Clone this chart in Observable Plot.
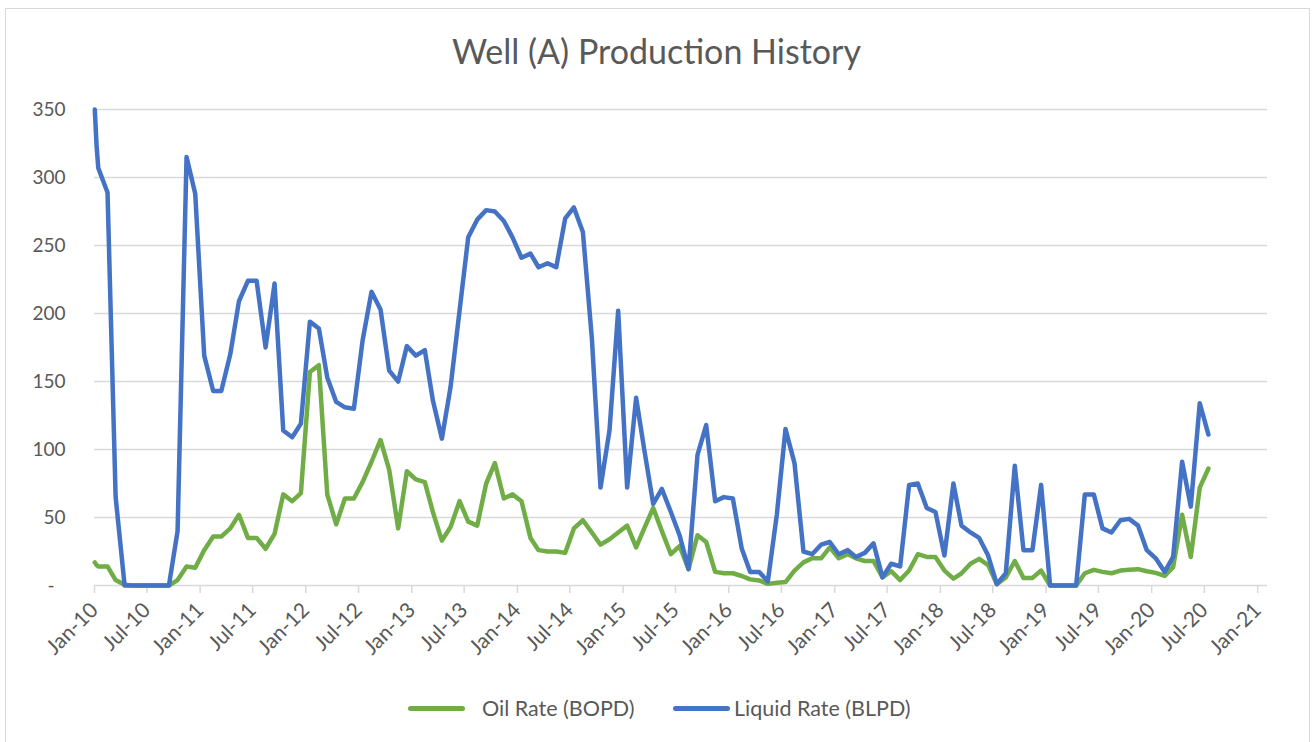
<!DOCTYPE html>
<html>
<head>
<meta charset="utf-8">
<script src="https://cdn.jsdelivr.net/npm/d3@7"></script>
<script src="https://cdn.jsdelivr.net/npm/@observablehq/plot@0.6"></script>
<style>
  html, body { margin: 0; padding: 0; background: #fff; }
  #wrap { position: relative; width: 1313px; height: 742px; overflow: hidden; font-family: Lato, "Open Sans", sans-serif; color: #595959; }
  #frame { position: absolute; left: 5px; top: 8px; width: 1305px; height: 760px; border: 1.5px solid #d9d9d9; box-sizing: border-box; }
  #title { position: absolute; left: 0; width: 1313px; top: 34px; text-align: center; font-size: 34px; line-height: 34px; color: #595959; }
  #chart { position: absolute; left: 0; top: 80px; }
  .leg { position: absolute; top: 695px; font-size: 21.5px; line-height: 26px; color: #595959; white-space: nowrap; }
  .sw { position: absolute; height: 5px; border-radius: 3px; top: 706px; }
</style>
</head>
<body>
<div id="wrap">
  <div id="frame"></div>
  <div id="title">Well (A) Production History</div>
  <div id="chart"></div>
  <div class="sw" style="left:408px;width:57px;background:#70AD47"></div>
  <div class="leg" style="left:482px">Oil Rate (BOPD)</div>
  <div class="sw" style="left:673px;width:57px;background:#4472C4"></div>
  <div class="leg" style="left:734px">Liquid Rate (BLPD)</div>
</div>
<script>
// Dates of the readings (first three in Jan-2010, then monthly mid-month)
const dates = [
  "2010-01-02","2010-01-08","2010-01-14",
  "2010-02","2010-03","2010-04","2010-05","2010-06","2010-07","2010-08","2010-09","2010-10","2010-11","2010-12",
  "2011-01","2011-02","2011-03","2011-04","2011-05","2011-06","2011-07","2011-08","2011-09","2011-10","2011-11","2011-12",
  "2012-01","2012-02","2012-03","2012-04","2012-05","2012-06","2012-07","2012-08","2012-09","2012-10","2012-11","2012-12",
  "2013-01","2013-02","2013-03","2013-04","2013-05","2013-06","2013-07","2013-08","2013-09","2013-10","2013-11","2013-12",
  "2014-01","2014-02","2014-03","2014-04","2014-05","2014-06","2014-07","2014-08","2014-09","2014-10","2014-11","2014-12",
  "2015-01","2015-02","2015-03","2015-04","2015-05","2015-06","2015-07","2015-08","2015-09","2015-10","2015-11","2015-12",
  "2016-01","2016-02","2016-03","2016-04","2016-05","2016-06","2016-07","2016-08","2016-09","2016-10","2016-11","2016-12",
  "2017-01","2017-02","2017-03","2017-04","2017-05","2017-06","2017-07","2017-08","2017-09","2017-10","2017-11","2017-12",
  "2018-01","2018-02","2018-03","2018-04","2018-05","2018-06","2018-07","2018-08","2018-09","2018-10","2018-11","2018-12",
  "2019-01","2019-02","2019-03","2019-04","2019-05","2019-06","2019-07","2019-08","2019-09","2019-10","2019-11","2019-12",
  "2020-01","2020-02","2020-03","2020-04","2020-05","2020-06","2020-07"
];

// Oil Rate (BOPD)
const oilRate = [
  17, 15, 14,
  14, 4, 0.5, 0, 0, 0, 0, 0, 4, 14, 13,
  26, 36, 36, 42, 52, 35, 35, 27, 38, 67, 62, 68,
  157, 162, 67, 45, 64, 64, 76, 91, 107, 85, 42, 84,
  78, 76, 54, 33, 43, 62, 47, 44, 75, 90, 64, 67,
  62, 35, 26, 25, 25, 24, 42, 48, 39, 30, 34, 39,
  44, 28, 42, 57, 40, 23, 29, 12, 37, 32, 10, 9,
  9, 7, 4.5, 3.7, 1.2, 2, 2.5, 11, 17, 20, 20, 28,
  20, 23, 20, 18, 18, 6, 10.5, 4, 11, 23, 21, 21,
  11, 5, 9, 16, 19.6, 15, 1, 6, 18, 5.6, 5.6, 11,
  0, 0, 0, 0, 9, 11.5, 10, 9, 11, 11.5, 12, 10.5,
  9.3, 7, 13.5, 52, 21, 72, 86
];

// Liquid Rate (BLPD)
const liquidRate = [
  350, 324, 307,
  289, 65, 0, 0, 0, 0, 0, 0, 40, 315, 288,
  169, 143, 143, 170, 209, 224, 224, 175, 222, 114, 109, 119,
  194, 189, 153, 135, 131, 130, 180, 216, 203, 158, 150, 176,
  169, 173, 136, 108, 146, 202, 256, 269, 276, 275, 268, 256,
  241, 244, 234, 237, 234, 270, 278, 260, 182, 72, 114, 202,
  72, 138, 100, 60, 71, 54, 37, 12, 96, 118, 62, 65,
  64, 27, 10, 10, 3, 52, 115, 90, 25, 23, 30, 32,
  23, 26, 21, 24, 31, 6, 16, 14, 74, 75, 57, 54,
  22, 75, 44, 39, 35, 22, 1, 9, 88, 26, 26, 74,
  0, 0, 0, 0, 67, 67, 42, 39, 48, 49, 44, 26,
  20, 10, 21, 91, 58, 134, 111
];

const yTicks = [0, 50, 100, 150, 200, 250, 300, 350];
const xTickLabels = ["Jan-10","Jul-10","Jan-11","Jul-11","Jan-12","Jul-12","Jan-13","Jul-13","Jan-14","Jul-14","Jan-15","Jul-15","Jan-16","Jul-16","Jan-17","Jul-17","Jan-18","Jul-18","Jan-19","Jul-19","Jan-20","Jul-20","Jan-21"];

const parseDate = s => new Date(s.length === 7 ? s + "-15T00:00:00Z" : s + "T00:00:00Z");
const parseTick = d3.utcParse("%b-%y");
const xTicks = xTickLabels.map(parseTick);

const data = dates.map((d, i) => ({date: parseDate(d), oil: oilRate[i], liquid: liquidRate[i]}));

const chart = Plot.plot({
  width: 1313,
  height: 595,
  marginTop: 29,
  marginBottom: 90,
  marginLeft: 94,
  marginRight: 46,
  style: {fontFamily: "Lato, 'Open Sans', sans-serif", fontSize: "19px", color: "#595959", background: "transparent", overflow: "visible"},
  x: {type: "utc", domain: [new Date("2010-01-01T00:00:00Z"), new Date("2021-02-04T00:00:00Z")]},
  y: {domain: [0, 350]},
  marks: [
    Plot.gridY(yTicks, {stroke: "#d9d9d9", strokeOpacity: 1, strokeWidth: 1.5}),
    Plot.axisY(yTicks, {tickSize: 0, tickPadding: 29, tickFormat: d => d === 0 ? "-\u2007" : String(d), label: null}),
    Plot.axisX(xTicks, {tickRotate: -45, tickSize: 8, tickPadding: 13, fontSize: 21, stroke: "#d9d9d9", strokeWidth: 1.5, fill: "#595959", tickFormat: d3.utcFormat("%b-%y"), label: null}),
    Plot.lineY(data, {x: "date", y: "oil", stroke: "#70AD47", strokeWidth: 4.5, strokeLinejoin: "round", strokeLinecap: "round"}),
    Plot.lineY(data, {x: "date", y: "liquid", stroke: "#4472C4", strokeWidth: 4.5, strokeLinejoin: "round", strokeLinecap: "round"})
  ]
});
document.getElementById("chart").appendChild(chart);
</script>
</body>
</html>
